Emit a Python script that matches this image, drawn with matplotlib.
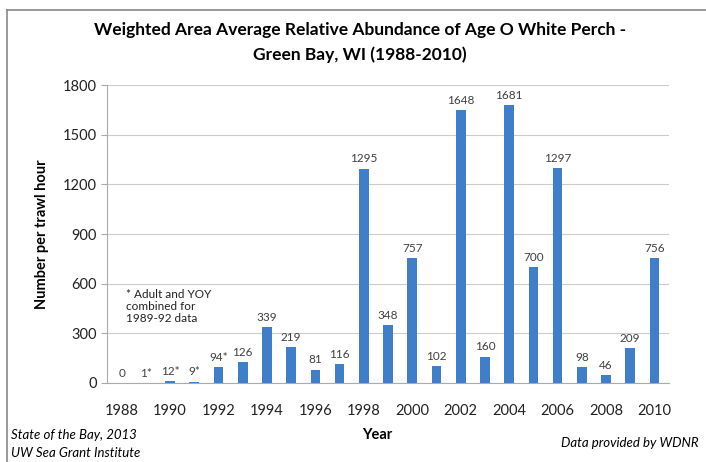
import numpy as np
import matplotlib
matplotlib.use("Agg")
import matplotlib.pyplot as plt
from matplotlib.lines import Line2D

plt.rcParams['font.family'] = ['Lato', 'DejaVu Sans']

# data
years = list(range(1988, 2011))
values = [0, 1, 12, 9, 94, 126, 339, 219, 81, 116, 1295, 348, 757,
          102, 1648, 160, 1681, 700, 1297, 98, 46, 209, 756]
labels = ["0", "1*", "12*", "9*", "94*", "126", "339", "219", "81", "116",
          "1295", "348", "757", "102", "1648", "160", "1681", "700",
          "1297", "98", "46", "209", "756"]
tick_years = list(range(1988, 2011, 2))

fig = plt.figure(figsize=(7.06, 4.62), dpi=100)
ax = fig.add_axes([0.1516, 0.171, 0.796, 0.645])

x = np.arange(len(years))
ax.bar(x, values, width=0.4, color="#3f7fc9", zorder=3)

for xi, v, lab in zip(x, values, labels):
    ax.text(xi, v + 25, lab, ha="center", va="bottom", fontsize=8.5,
            color="#404040", zorder=4)

ax.set_xlim(-0.6, len(years) - 0.4)
ax.set_ylim(0, 1800)
ax.set_yticks(range(0, 1801, 300))
ax.set_xticks([years.index(y) for y in tick_years])
ax.set_xticklabels([str(y) for y in tick_years])
ax.tick_params(axis="both", labelsize=10.5, colors="#222222", length=4,
               color="#aaaaaa")
ax.tick_params(axis="x", length=0, pad=15)
ax.grid(axis="y", color="#cccccc", linewidth=0.8, zorder=0)
for s in ["top", "right"]:
    ax.spines[s].set_visible(False)
ax.spines["left"].set_color("#aaaaaa")
ax.spines["bottom"].set_color("#aaaaaa")

ax.set_ylabel("Number per trawl hour", fontsize=10.5, fontweight="bold",
              labelpad=10)

ax.text(0.2, 600 - 30, "* Adult and YOY\ncombined for\n1989-92 data",
        ha="left", va="top", fontsize=8.5, color="#222222", linespacing=1.15)

fig.text(0.51, 0.935, "Weighted Area Average Relative Abundance of Age O White Perch -",
         ha="center", va="center", fontsize=12.5, fontweight="bold")
fig.text(0.51, 0.882, "Green Bay, WI (1988-2010)",
         ha="center", va="center", fontsize=12.5, fontweight="bold")
fig.text(0.535, 0.058, "Year", ha="center", va="center", fontsize=10.5,
         fontweight="bold")
fig.text(0.016, 0.058, "State of the Bay, 2013", ha="left", va="center",
         fontsize=9.5, style="italic")
fig.text(0.016, 0.02, "UW Sea Grant Institute", ha="left", va="center",
         fontsize=9.5, style="italic")
fig.text(0.99, 0.042, "Data provided by WDNR", ha="right", va="center",
         fontsize=9.5, style="italic")

# outer frame lines (top and left)
fig.add_artist(Line2D([0.01, 0.01], [0, 0.978], color="#888888", linewidth=1.2))
fig.add_artist(Line2D([0.01, 1], [0.978, 0.978], color="#888888", linewidth=1.2))

fig.savefig("out.png", dpi=100)
